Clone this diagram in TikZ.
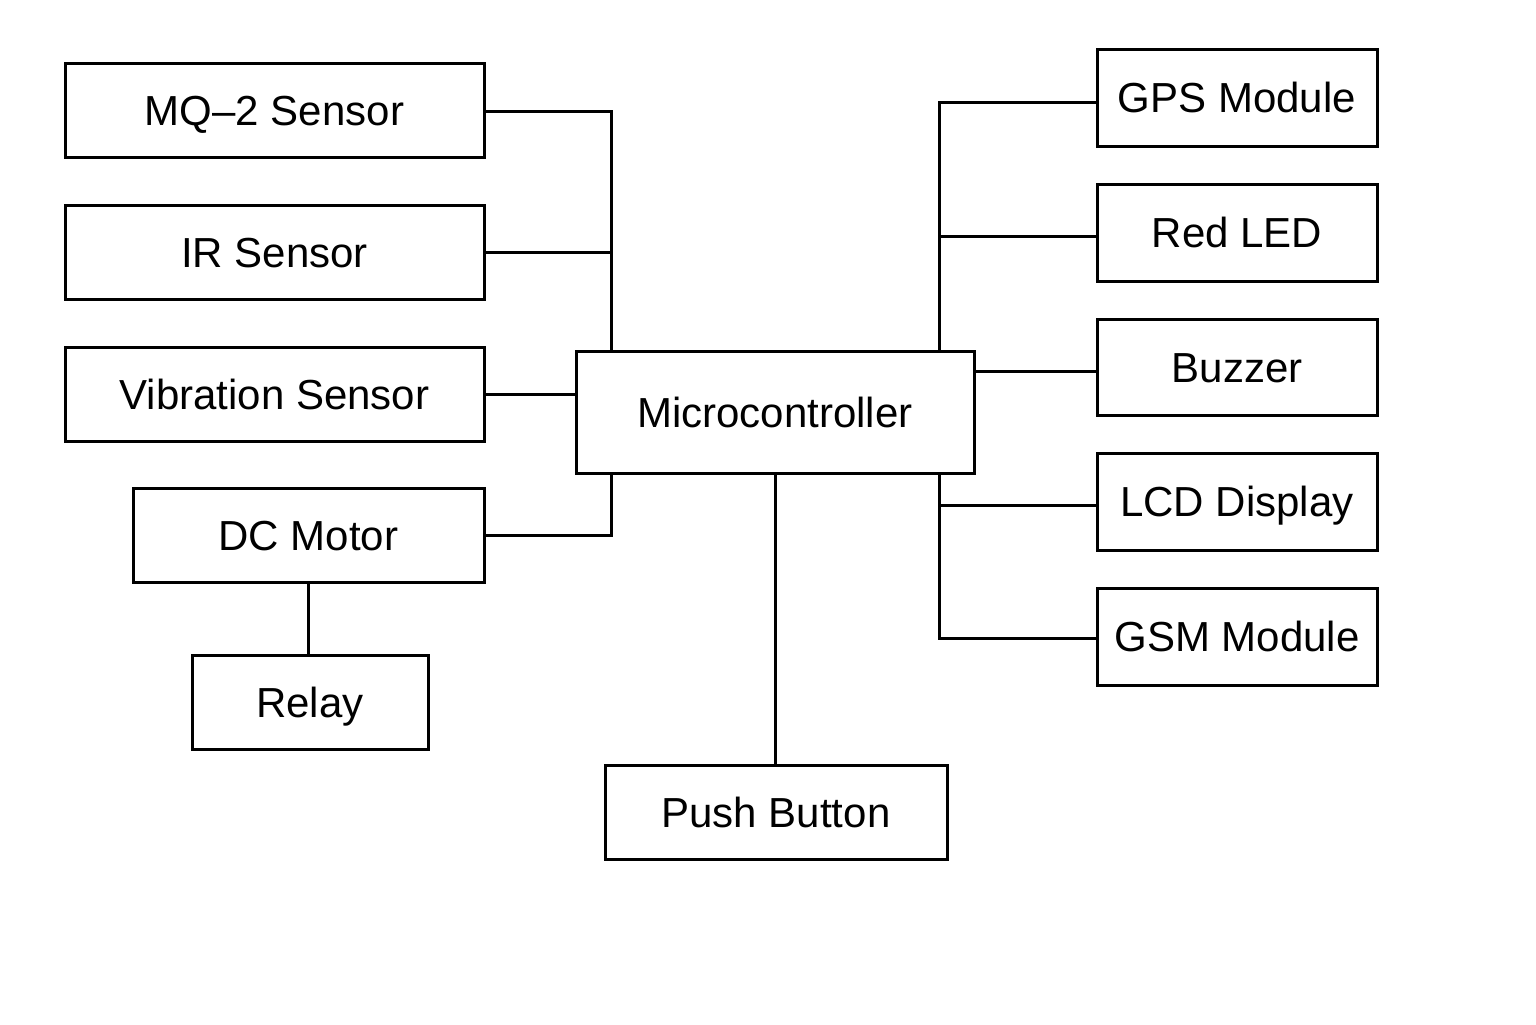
\documentclass[tikz,border=0pt]{standalone}
\usepackage{fontspec}
\setmainfont{Liberation Sans}
\usetikzlibrary{calc}
\begin{document}
\begin{tikzpicture}[x=0.5pt,y=-0.5pt,
  blk/.style={draw,line width=1.5pt,inner sep=0pt,font=\fontsize{21}{25}\selectfont,text height=15pt,text depth=0pt},
  wire/.style={line width=1.5pt}]
\useasboundingbox (0,0) rectangle (1536,1024);
\fill[white] (0,0) rectangle (1536,1024);
% left
\node[blk,minimum width=209.5pt,minimum height=47pt] (mq) at (274.5,110) {MQ–2 Sensor};
\node[blk,minimum width=209.5pt,minimum height=47pt] (ir) at (274.5,252) {IR Sensor};
\node[blk,minimum width=209.5pt,minimum height=47pt] (vib) at (274.5,394) {Vibration Sensor};
\node[blk,minimum width=175.5pt,minimum height=47pt] (dc) at (308.5,535) {DC Motor};
\node[blk,minimum width=118pt,minimum height=47pt] (relay) at (310,702) {Relay};
% center
\node[blk,minimum width=199pt,minimum height=61pt] (micro) at (775,412) {Microcontroller};
\node[blk,minimum width=171pt,minimum height=47pt] (push) at (776,812) {Push Button};
% right
\node[blk,minimum width=140pt,minimum height=48.5pt] (gps) at (1237,97.5) {GPS Module};
\node[blk,minimum width=140pt,minimum height=48.5pt] (led) at (1237,232.5) {Red LED};
\node[blk,minimum width=140pt,minimum height=48pt] (buz) at (1237,367) {Buzzer};
\node[blk,minimum width=140pt,minimum height=48.5pt] (lcd) at (1237,501.5) {LCD Display};
\node[blk,minimum width=140pt,minimum height=48.5pt] (gsm) at (1237,636.5) {GSM Module};
% junctions
\coordinate (jtl) at ($(micro.north west)+(37,0)$);
\coordinate (jbl) at ($(micro.south west)+(37,0)$);
\coordinate (jtr) at ($(micro.north east)+(-36,0)$);
\coordinate (jbr) at ($(micro.south east)+(-36,0)$);
% connectors
\draw[wire] ($(mq.east)+(0,1)$) -| (jtl);
\draw[wire] (ir.east) -- (ir.east -| jtl);
\draw[wire] (vib.east) -- (vib.east -| micro.west);
\draw[wire] (dc.east) -| (jbl);
\draw[wire] (dc.south) -- (dc.south |- relay.north);
\draw[wire] (micro.south) -- (micro.south |- push.north);
\draw[wire] ($(gps.west)+(0,4.5)$) -| (jtr);
\draw[wire] ($(led.west)+(0,3.5)$) -- ($(led.west -| jtr)+(0,3.5)$);
\draw[wire] ($(buz.west)+(0,4)$) -- ($(buz.west -| micro.east)+(0,4)$);
\draw[wire] ($(lcd.west)+(0,3.5)$) -- ($(lcd.west -| jbr)+(0,3.5)$);
\draw[wire] ($(gsm.west)+(0,1.5)$) -| (jbr);
\end{tikzpicture}
\end{document}
